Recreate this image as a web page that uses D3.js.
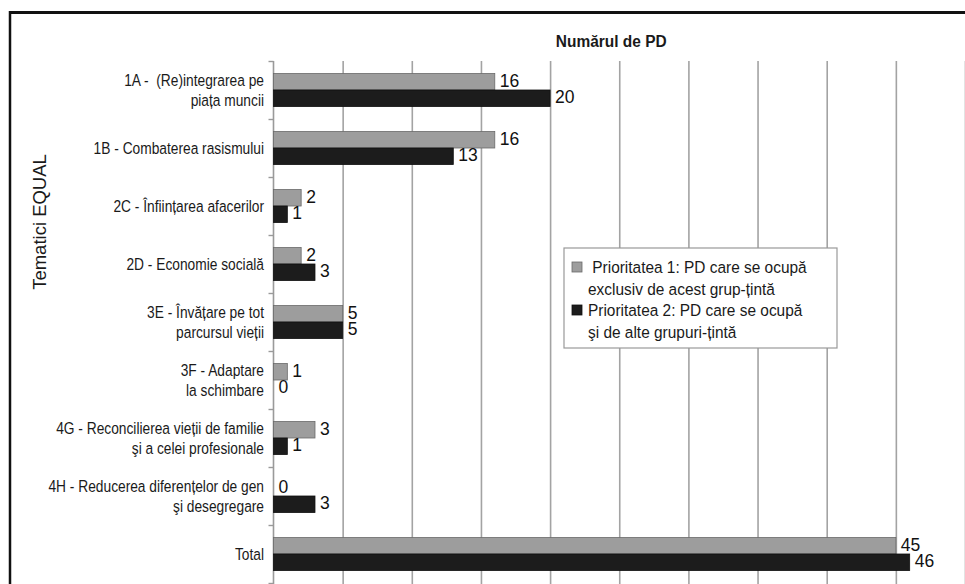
<!DOCTYPE html>
<html>
<head>
<meta charset="utf-8">
<script src="https://cdn.jsdelivr.net/npm/d3@7"></script>
<style>
  html, body { margin: 0; padding: 0; background: #fff; }
  svg { display: block; font-family: "Liberation Sans", Arial, sans-serif; }
</style>
</head>
<body>
<svg id="chart" width="965" height="584"></svg>
<script>
// Thematic areas (line breaks marked with "|")
const categories = [
  "1A -  (Re)integrarea pe|piața muncii",
  "1B - Combaterea rasismului",
  "2C - Înființarea afacerilor",
  "2D - Economie socială",
  "3E - Învățare pe tot|parcursul vieții",
  "3F - Adaptare|la schimbare",
  "4G - Reconcilierea vieții de familie|şi a celei profesionale",
  "4H - Reducerea diferențelor de gen|şi desegregare",
  "Total"
];
// Number of PD per priority
const priority1 = [16, 16, 2, 2, 5, 1, 3, 0, 45];
const priority2 = [20, 13, 1, 3, 5, 0, 1, 3, 46];
const seriesNames = [
  " Prioritatea 1: PD care se ocupă|exclusiv de acest grup-țintă",
  "Prioritatea 2: PD care se ocupă|şi de alte grupuri-țintă"
];
const gridTicks = [5, 10, 15, 20, 25, 30, 35, 40, 45, 50];
const xTitle = "Numărul de PD";
const yTitle = "Tematici EQUAL";

const colors = ["#9d9d9d", "#1c1c1c"];
const strokes = ["#6a6a6a", "#111"];

const svg = d3.select("#chart");
const plot = { left: 273.5, right: 965, top: 61, bottom: 583 };

// Outer frame
svg.append("line").attr("x1", 9).attr("x2", 965).attr("y1", 12.5).attr("y2", 12.5)
  .attr("stroke", "#111").attr("stroke-width", 3);
svg.append("line").attr("x1", 10).attr("x2", 10).attr("y1", 11).attr("y2", 584)
  .attr("stroke", "#111").attr("stroke-width", 2.5);

const x = d3.scaleLinear().domain([0, 50]).range([plot.left, plot.right]);
const y = d3.scaleBand().domain(d3.range(categories.length)).range([plot.top, plot.bottom]).paddingInner(0).paddingOuter(0);
const barH = y.bandwidth() * 0.285;

// Vertical gridlines
const grid = svg.append("g").attr("transform", `translate(0,${plot.top})`)
  .call(d3.axisBottom(x).tickValues(gridTicks).tickSize(plot.bottom - plot.top + 4).tickFormat(""));
grid.select(".domain").remove();
grid.selectAll(".tick line").attr("stroke", "#a3a3a3").attr("stroke-width", 1.6);

// Category axis with boundary ticks
const yEdge = d3.scaleLinear().domain([0, categories.length]).range([plot.top, plot.bottom]);
const yAxis = svg.append("g").attr("transform", `translate(${plot.left},0)`)
  .call(d3.axisLeft(yEdge).tickValues(d3.range(categories.length + 1)).tickSize(5).tickSizeOuter(0).tickFormat(""));
yAxis.select(".domain").attr("stroke", "#9a9a9a").attr("stroke-width", 1.6)
  .attr("d", `M0,${plot.top}V${plot.bottom + 4}`);
yAxis.selectAll(".tick line").attr("stroke", "#9a9a9a").attr("stroke-width", 1.4);

// Bars and value labels
const series = [priority1, priority2];
series.forEach((vals, s) => {
  svg.append("g").selectAll("rect").data(vals).join("rect")
    .attr("x", x(0))
    .attr("y", (d, i) => y(i) + y.bandwidth() / 2 - barH + s * barH)
    .attr("width", d => x(d) - x(0))
    .attr("height", barH)
    .attr("fill", colors[s])
    .attr("stroke", d => d > 0 ? strokes[s] : "none")
    .attr("stroke-width", 0.8);

  svg.append("g").selectAll("text").data(vals).join("text")
    .attr("x", d => x(d) + 5)
    .attr("y", (d, i) => y(i) + y.bandwidth() / 2 - barH / 2 + s * barH - 1)
    .attr("dominant-baseline", "central")
    .attr("font-size", 17.5)
    .attr("fill", "#111")
    .text(d => d);
});

// Category labels (condensed)
categories.forEach((c, i) => {
  const lines = c.split("|");
  const cy = y(i) + y.bandwidth() / 2;
  lines.forEach((ln, k) => {
    const ly = cy + (k - (lines.length - 1) / 2) * 20;
    svg.append("text")
      .attr("transform", `translate(264,${ly}) scale(0.8,1)`)
      .attr("text-anchor", "end")
      .attr("dominant-baseline", "central")
      .attr("font-size", 17.2)
      .attr("fill", "#1a1a1a")
      .attr("xml:space", "preserve")
      .text(ln);
  });
});

// Axis titles
svg.append("text")
  .attr("transform", `translate(${(plot.left + plot.right) / 2 - 8},47) scale(0.91,1)`)
  .attr("text-anchor", "middle")
  .attr("font-size", 17).attr("font-weight", "bold").attr("fill", "#1a1a1a")
  .text(xTitle);
svg.append("text")
  .attr("transform", "translate(46,222) rotate(-90)")
  .attr("text-anchor", "middle")
  .attr("font-size", 18.5).attr("fill", "#1a1a1a")
  .text(yTitle);

// Legend
const lg = svg.append("g").attr("transform", "translate(564,248)");
lg.append("rect").attr("width", 273).attr("height", 100)
  .attr("fill", "#fff").attr("stroke", "#999").attr("stroke-width", 1.2);
seriesNames.forEach((name, s) => {
  const lines = name.split("|");
  const top = 19 + s * 43;
  lg.append("rect").attr("x", 8).attr("y", top - 5).attr("width", 10).attr("height", 10)
    .attr("fill", colors[s]).attr("stroke", strokes[s]).attr("stroke-width", 0.8);
  lines.forEach((ln, k) => {
    lg.append("text")
      .attr("transform", `translate(24,${top + k * 21.5}) scale(0.93,1)`)
      .attr("dominant-baseline", "central")
      .attr("font-size", 16.6).attr("fill", "#1a1a1a")
      .attr("xml:space", "preserve")
      .style("white-space", "pre")
      .text(ln);
  });
});
</script>
</body>
</html>
